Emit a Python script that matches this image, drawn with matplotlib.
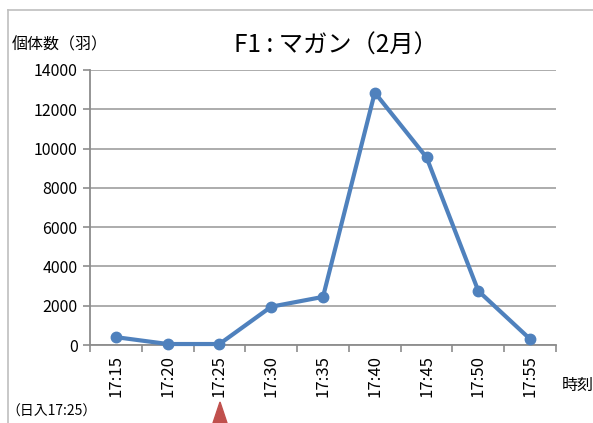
import matplotlib
matplotlib.use("Agg")
import matplotlib.pyplot as plt
from matplotlib.lines import Line2D
from matplotlib.patches import Polygon
import numpy as np

plt.rcParams['font.family'] = ['Noto Sans CJK JP', 'DejaVu Sans']

times = ["17:15", "17:20", "17:25", "17:30", "17:35", "17:40", "17:45", "17:50", "17:55"]
counts = [400, 50, 50, 1950, 2450, 12850, 9550, 2750, 300]
yticks = [0, 2000, 4000, 6000, 8000, 10000, 12000, 14000]

W, H = 593, 423
fig = plt.figure(figsize=(W / 100, H / 100), dpi=100)
L, R, T, B = 90, 556, 70, 345
ax = fig.add_axes([L / W, 1 - B / H, (R - L) / W, (B - T) / H])

x = np.arange(len(times))
ax.plot(x, counts, color='#4f81bd', lw=3, marker='o', ms=7.5, zorder=3, clip_on=False)
ax.set_xlim(-0.5, len(times) - 0.5)
ax.set_ylim(0, 14000)
ax.set_yticks(yticks)
ax.set_yticklabels([str(v) for v in yticks], fontsize=11.5)
ax.yaxis.grid(True, color='#a6a6a6', lw=1.3)
ax.set_axisbelow(True)

ax.set_xticks(x)
ax.set_xticklabels(times, rotation=90, fontsize=12)
ax.set_xticks(np.arange(len(times) + 1) - 0.5, minor=True)
ax.tick_params(axis='x', which='major', length=0, pad=7)
ax.tick_params(axis='x', which='minor', length=5, color='#8c8c8c', width=1.2)
ax.tick_params(axis='y', length=5, color='#8c8c8c', width=1.2, pad=4)

for s in ['top', 'right']:
    ax.spines[s].set_visible(False)
for s in ['left', 'bottom']:
    ax.spines[s].set_color('#8c8c8c')
    ax.spines[s].set_linewidth(1.3)

# chart border
fig.add_artist(Line2D([8 / W, 8 / W], [0, 1 - 10 / H], color='#bfbfbf', lw=1.2))
fig.add_artist(Line2D([8 / W, 1], [1 - 10 / H, 1 - 10 / H], color='#bfbfbf', lw=1.2))

fig.text(336 / W, 1 - 46 / H, "F1 : マガン（2月）", fontsize=17.5, ha='center', va='center')
fig.text(12 / W, 1 - 45 / H, "個体数（羽）", fontsize=11.5, ha='left', va='center')
fig.text(562 / W, 1 - 385 / H, "時刻", fontsize=11.5, ha='left', va='center')
fig.text(6 / W, 1 - 412 / H, "（日入17:25）", fontsize=10, ha='left', va='center')

tri = Polygon([[(220 - 7) / W, 0], [(220 + 7) / W, 0], [220 / W, 1 - 402 / H]],
              closed=True, transform=fig.transFigure, color='#c0504d')
fig.add_artist(tri)

fig.savefig("out.png", dpi=100)
